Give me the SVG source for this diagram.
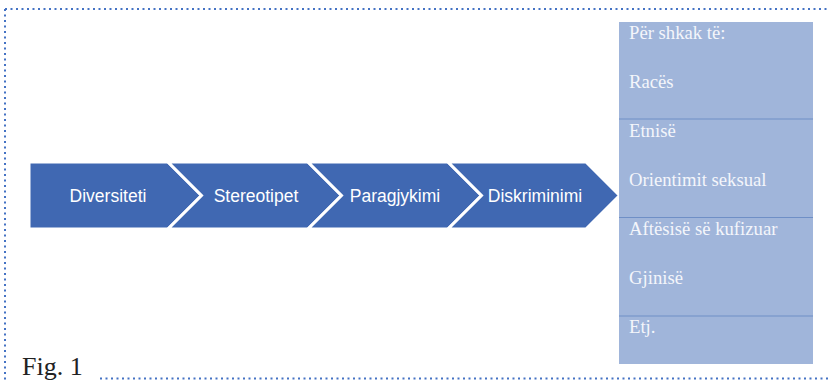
<svg xmlns="http://www.w3.org/2000/svg" width="829" height="381" viewBox="0 0 829 381">
  <style>
    .frame { fill: none; stroke: #4472C4; stroke-width: 2; stroke-dasharray: 2 3.5; }
    .chev { fill: #4068B2; stroke: #FFFFFF; stroke-width: 3; stroke-linejoin: miter; }
    .chev-label { font-family: "Liberation Sans", Arial, sans-serif; font-size: 17.5px; fill: #FFFFFF; text-anchor: middle; }
    .panel { fill: #A0B5DA; }
    .divider { stroke: #6F8FC6; stroke-width: 1.2; }
    .item { font-family: "Liberation Serif", "Times New Roman", serif; font-size: 18.7px; fill: #F4F6FB; }
    .caption { font-family: "Liberation Serif", "Times New Roman", serif; font-size: 26px; fill: #222222; }
  </style>

  <!-- dotted frame -->
  <g id="frame">
    <line class="frame" x1="5" y1="9" x2="829" y2="9"/>
    <line class="frame" x1="5" y1="9" x2="5" y2="381"/>
    <line class="frame" x1="100" y1="378.5" x2="829" y2="378.5"/>
  </g>

  <!-- process chevrons -->
  <g id="diversiteti">
    <path class="chev" d="M29,162 H168 L201.5,195.5 L168,229 H29 Z"/>
    <text class="chev-label" x="108" y="201.5">Diversiteti</text>
  </g>
  <g id="stereotipet">
    <path class="chev" d="M168,162 H308 L341.5,195.5 L308,229 H168 L201.5,195.5 Z"/>
    <text class="chev-label" x="256" y="201.5">Stereotipet</text>
  </g>
  <g id="paragjykimi">
    <path class="chev" d="M308,162 H448 L481.5,195.5 L448,229 H308 L341.5,195.5 Z"/>
    <text class="chev-label" x="395" y="201.5">Paragjykimi</text>
  </g>
  <g id="diskriminimi">
    <path class="chev" d="M448,162 H586 L619.5,195.5 L586,229 H448 L481.5,195.5 Z"/>
    <text class="chev-label" x="535" y="201.5">Diskriminimi</text>
  </g>

  <!-- list of grounds -->
  <g id="grounds">
    <rect class="panel" x="619" y="22" width="194" height="342"/>
    <line class="divider" x1="619" y1="119" x2="813" y2="119"/>
    <line class="divider" x1="619" y1="217.5" x2="813" y2="217.5"/>
    <line class="divider" x1="619" y1="316" x2="813" y2="316"/>
    <text class="item" x="629" y="38.5">Për shkak të:</text>
    <text class="item" x="629" y="87.5">Racës</text>
    <text class="item" x="629" y="136.5">Etnisë</text>
    <text class="item" x="629" y="185.5">Orientimit seksual</text>
    <text class="item" x="629" y="234.5">Aftësisë së kufizuar</text>
    <text class="item" x="629" y="283.5">Gjinisë</text>
    <text class="item" x="629" y="332.5">Etj.</text>
  </g>

  <text class="caption" x="22" y="375">Fig. 1</text>
</svg>
